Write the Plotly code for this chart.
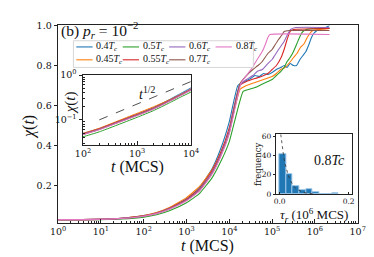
import plotly.graph_objects as go

W, H = 374, 257


def px(x):
    return x / W


def py(y):
    return 1 - y / H


# ---------------- data ----------------
temps = ["0.4", "0.45", "0.5", "0.55", "0.6", "0.7", "0.8"]
colors = ["#1f77b4", "#ff7f0e", "#2ca02c", "#d62728", "#9467bd", "#8c564b", "#e377c2"]

# early growth, common log10(t) grid
log_t_early = [0.0, 1.0, 1.5, 2.0, 2.3, 2.6, 3.0, 3.3, 3.6, 3.8, 4.0]
chi_early = {
    "0.4":  [0.030, 0.031, 0.037, 0.050, 0.064, 0.088, 0.134, 0.188, 0.285, 0.385, 0.520],
    "0.45": [0.030, 0.031, 0.037, 0.050, 0.065, 0.090, 0.140, 0.195, 0.280, 0.365, 0.475],
    "0.5":  [0.029, 0.030, 0.033, 0.042, 0.054, 0.074, 0.114, 0.160, 0.240, 0.320, 0.420],
    "0.55": [0.030, 0.031, 0.037, 0.049, 0.063, 0.087, 0.132, 0.183, 0.275, 0.365, 0.490],
    "0.6":  [0.030, 0.031, 0.036, 0.048, 0.062, 0.085, 0.128, 0.178, 0.268, 0.355, 0.475],
    "0.7":  [0.030, 0.031, 0.036, 0.047, 0.061, 0.083, 0.126, 0.175, 0.262, 0.350, 0.465],
    "0.8":  [0.030, 0.031, 0.036, 0.047, 0.060, 0.082, 0.124, 0.172, 0.258, 0.345, 0.460],
}

# late stage (knee and plateau), per series: log10(t), chi
log_t_late = {
    "0.4":  [4.20, 4.35, 4.50, 4.60, 4.70, 4.80, 4.90, 5.00, 5.10, 5.20, 5.28, 5.35, 5.42, 5.50, 5.57, 5.65, 5.72, 5.79, 5.85, 5.92, 5.97, 6.05, 6.15, 6.25, 6.34],
    "0.45": [4.25, 4.40, 4.60, 4.80, 5.00, 5.10, 5.20, 5.30, 5.43, 5.50, 5.58, 5.66, 5.75, 5.82, 5.88, 5.95, 6.10, 6.34],
    "0.5":  [4.32, 4.45, 4.60, 4.75, 4.90, 5.00, 5.10, 5.20, 5.28, 5.35, 5.42, 5.50, 5.58, 5.66, 5.72, 5.80, 6.00, 6.34],
    "0.55": [4.24, 4.40, 4.60, 4.75, 4.90, 5.00, 5.10, 5.21, 5.28, 5.35, 5.42, 5.50, 6.34],
    "0.6":  [4.24, 4.40, 4.55, 4.65, 4.77, 4.90, 5.00, 5.06, 5.15, 5.28, 5.35, 5.43, 5.55, 6.34],
    "0.7":  [4.25, 4.40, 4.55, 4.67, 4.77, 4.90, 5.00, 5.06, 5.15, 5.22, 5.28, 5.40, 6.34],
    "0.8":  [4.27, 4.40, 4.54, 4.65, 4.77, 4.85, 4.90, 4.95, 6.34],
}
chi_late = {
    "0.4":  [0.700, 0.720, 0.735, 0.750, 0.745, 0.760, 0.755, 0.765, 0.780, 0.790, 0.800, 0.790, 0.810, 0.800, 0.800, 0.830, 0.850, 0.870, 0.900, 0.940, 0.960, 0.975, 0.985, 0.990, 1.000],
    "0.45": [0.680, 0.700, 0.715, 0.730, 0.745, 0.760, 0.780, 0.790, 0.820, 0.840, 0.860, 0.890, 0.910, 0.940, 0.960, 0.975, 0.980, 0.985],
    "0.5":  [0.670, 0.680, 0.690, 0.705, 0.720, 0.730, 0.750, 0.770, 0.790, 0.820, 0.840, 0.870, 0.910, 0.950, 0.970, 0.980, 0.985, 0.985],
    "0.55": [0.700, 0.720, 0.735, 0.745, 0.760, 0.780, 0.800, 0.840, 0.880, 0.930, 0.970, 0.980, 0.985],
    "0.6":  [0.700, 0.730, 0.750, 0.770, 0.780, 0.810, 0.830, 0.850, 0.880, 0.920, 0.950, 0.980, 0.990, 0.990],
    "0.7":  [0.710, 0.750, 0.780, 0.800, 0.820, 0.860, 0.880, 0.900, 0.930, 0.950, 0.970, 0.975, 0.975],
    "0.8":  [0.710, 0.750, 0.790, 0.830, 0.870, 0.910, 0.940, 0.955, 0.955],
}

# t^{1/2} guide in inset
guide_t = [200, 10000]
guide_chi = [0.100, 0.720]

# residence-time histogram (0.8 Tc), units of 10^6 MCS
hist_edges = [0.000, 0.019, 0.038, 0.057, 0.076, 0.095, 0.114, 0.133, 0.152, 0.171]
hist_counts = [41, 21, 8, 4, 5, 2, 0, 0, 1]
# exponential fit curve
fit_tau = [0.001, 0.004, 0.008, 0.012, 0.016, 0.020, 0.025, 0.030, 0.040, 0.050, 0.060, 0.070, 0.085, 0.100]
fit_freq = [68, 58, 47, 38, 31, 25, 19.5, 15, 8.5, 5.0, 3.0, 1.8, 0.8, 0.3]

# ---------------- figure ----------------
fig = go.Figure()

for name, col in zip(temps, colors):
    lt = log_t_early + log_t_late[name]
    ch = chi_early[name] + chi_late[name]
    t = [10 ** v for v in lt]
    fig.add_trace(go.Scatter(x=t, y=ch, mode="lines", line=dict(color=col, width=1.1, shape="spline", smoothing=0.4),
                             xaxis="x", yaxis="y", showlegend=False, hoverinfo="skip"))
    fig.add_trace(go.Scatter(x=t, y=ch, mode="lines", line=dict(color=col, width=1.0, shape="spline", smoothing=0.4),
                             xaxis="x2", yaxis="y2", showlegend=False, hoverinfo="skip"))

fig.add_trace(go.Scatter(x=guide_t, y=guide_chi, mode="lines", line=dict(color="#222", width=0.8, dash="dash"),
                         xaxis="x2", yaxis="y2", showlegend=False, hoverinfo="skip"))

centers = [(a + b) / 2 for a, b in zip(hist_edges[:-1], hist_edges[1:])]
widths = [b - a for a, b in zip(hist_edges[:-1], hist_edges[1:])]
fig.add_trace(go.Bar(x=centers, y=hist_counts, width=widths, marker=dict(color="#1f77b4", line=dict(color="#9cc6e6", width=1)),
                     xaxis="x3", yaxis="y3", showlegend=False, hoverinfo="skip"))
fig.add_trace(go.Scatter(x=fit_tau, y=fit_freq, mode="lines", line=dict(color="#333", width=0.8, dash="dot"),
                         xaxis="x3", yaxis="y3", showlegend=False, hoverinfo="skip"))

tickfont = dict(family="DejaVu Serif", size=9.5, color="#111")
smallfont = dict(family="DejaVu Serif", size=7.5, color="#111")
labfont = "Liberation Serif"

main_minor = [k * 10 ** d for d in range(0, 7) for k in range(2, 10)]
in_minor_x = [k * 10 ** d for d in range(2, 4) for k in range(2, 10)]
in_minor_y = [k * 10 ** d for d in range(-2, 0) for k in range(2, 10)]

axcommon = dict(showline=True, linecolor="#222", linewidth=1, mirror=True, showgrid=False, zeroline=False)

fig.update_layout(
    width=W, height=H, margin=dict(l=0, r=0, t=0, b=0),
    paper_bgcolor="white", plot_bgcolor="white", bargap=0,
    xaxis=dict(domain=[px(44), px(357)], type="log", range=[0, 7], anchor="y",
               tickvals=[10 ** d for d in range(8)], ticktext=[f"10<sup>{d}</sup>" for d in range(8)],
               ticks="inside", ticklen=4, tickcolor="#222", tickfont=tickfont,
               minor=dict(tickvals=main_minor, ticks="inside", ticklen=2, tickcolor="#222"), **axcommon),
    yaxis=dict(domain=[py(218), py(11)], range=[0.014, 1.0], anchor="x",
               tickvals=[0.2, 0.4, 0.6, 0.8, 1.0], ticktext=["0.2", "0.4", "0.6", "0.8", "1.0"],
               ticks="outside", ticklen=3.5, tickcolor="#222", tickfont=tickfont, **axcommon),
    xaxis2=dict(domain=[px(70), px(183)], type="log", range=[2, 4], anchor="y2",
                tickvals=[100, 1000, 10000], ticktext=["10<sup>2</sup>", "10<sup>3</sup>", "10<sup>4</sup>"],
                ticks="inside", ticklen=4, tickcolor="#222", tickfont=tickfont,
                minor=dict(tickvals=in_minor_x, ticks="inside", ticklen=2, tickcolor="#222"), **axcommon),
    yaxis2=dict(domain=[py(136), py(63)], type="log", range=[-1.553, 0], anchor="x2",
                tickvals=[0.1, 1], ticktext=["10<sup>−1</sup>", "10<sup>0</sup>"],
                ticks="outside", ticklen=3.5, tickcolor="#222", tickfont=tickfont,
                minor=dict(tickvals=in_minor_y, ticks="inside", ticklen=2, tickcolor="#222"), **axcommon),
    xaxis3=dict(domain=[px(272), px(351.5)], range=[-0.0095, 0.211], anchor="y3",
                tickvals=[0.0, 0.2], ticktext=["0.0", "0.2"],
                ticks="inside", ticklen=2, tickcolor="#222", tickfont=smallfont, ticklabelstandoff=0, **axcommon),
    yaxis3=dict(domain=[py(188), py(125)], range=[0, 62], anchor="x3",
                tickvals=[0, 20, 40, 60], ticktext=["0", "20", "40", "60"],
                ticks="outside", ticklen=2.5, tickcolor="#222", tickfont=smallfont, ticklabelstandoff=0, **axcommon),
)

ann = []


def add_text(x, y, text, size, family=labfont, angle=0, xanchor="center"):
    ann.append(dict(x=px(x), y=py(y), xref="paper", yref="paper", text=text, showarrow=False,
                    font=dict(family=family, size=size, color="#111"), textangle=angle,
                    xanchor=xanchor, yanchor="middle"))


add_text(45, 16, "(b) <i>p<sub>r</sub></i> = 10<sup>−2</sup>", 15.5, xanchor="left")
add_text(200.5, 242, "<i>t</i> (MCS)", 16)
add_text(13, 117, "<i>χ</i>(<i>t</i>)", 16, angle=-90)
add_text(127, 159, "<i>t</i> (MCS)", 16)
add_text(57, 92, "<i>χ</i>(<i>t</i>)", 15, angle=-90)
add_text(137, 82, "<i>t</i><sup>1/2</sup>", 14)
add_text(327, 153, "0.8<i>Tc</i>", 14)
add_text(252, 157, "frequency", 8.5, family="DejaVu Serif", angle=-90)
add_text(311.5, 210, "<i>τ<sub>r</sub></i> (10<sup>6</sup> MCS)", 13)

# manual legend (column-major, 2 rows x 4 columns)
shapes = [dict(type="rect", xref="paper", yref="paper", x0=px(60), x1=px(248), y0=py(55), y1=py(27),
               line=dict(color="#cccccc", width=0.8), fillcolor="rgba(255,255,255,0.85)", layer="above")]
for i, (name, col) in enumerate(zip(temps, colors)):
    c, r = i // 2, i % 2
    x0 = 63 + c * 48.5
    yy = 33.5 + r * 13.5
    shapes.append(dict(type="line", xref="paper", yref="paper", x0=px(x0), x1=px(x0 + 17), y0=py(yy), y1=py(yy),
                       line=dict(color=col, width=1.1), layer="above"))
    add_text(x0 + 19, yy, f"{name}<i>T</i><sub><i>c</i></sub>", 10, xanchor="left")

fig.update_layout(annotations=ann, shapes=shapes)

fig.write_html("out.html")
